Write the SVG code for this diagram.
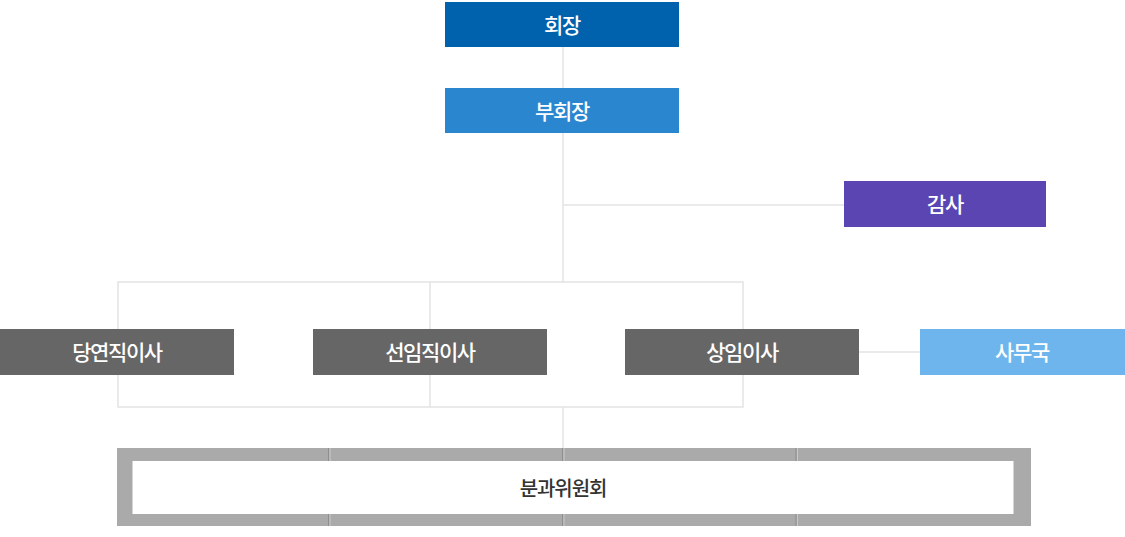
<svg xmlns="http://www.w3.org/2000/svg" width="1125" height="537" viewBox="0 0 1125 537">
<style>
.t{font-family:"Noto Sans CJK KR","Noto Sans",sans-serif;font-size:21px;font-weight:500;letter-spacing:-1.4px;fill:#fff;text-anchor:middle;dominant-baseline:central}
.d{fill:#333;font-size:20px;letter-spacing:-1.1px}
.ln{stroke:#e3e3e3;stroke-width:1.5;fill:none}
</style>
<rect width="1125" height="537" fill="#fff"/>
<g id="connectors">
<line class="ln" x1="563" y1="47" x2="563" y2="88"/>
<line class="ln" x1="563" y1="133" x2="563" y2="282"/>
<line class="ln" x1="563" y1="205" x2="844" y2="205"/>
<rect class="ln" x="118" y="282" width="625" height="125"/>
<line class="ln" x1="430" y1="282" x2="430" y2="407"/>
<line class="ln" x1="858" y1="352" x2="920" y2="352"/>
<line class="ln" x1="563" y1="407" x2="563" y2="448"/>
</g>
<g id="n-chairman"><rect x="445" y="2" width="234" height="45" fill="#0062ad"/><text class="t" x="562" y="24">회장</text></g>
<g id="n-vice"><rect x="445" y="88" width="234" height="45" fill="#2a87cf"/><text class="t" x="562" y="110">부회장</text></g>
<g id="n-audit"><rect x="844" y="181" width="202" height="46" fill="#5b45b3"/><text class="t" x="945" y="203">감사</text></g>
<g id="n-exofficio"><rect x="0" y="329" width="234" height="46" fill="#666"/><text class="t" x="117" y="351">당연직이사</text></g>
<g id="n-elected"><rect x="313" y="329" width="234" height="46" fill="#666"/><text class="t" x="430" y="351">선임직이사</text></g>
<g id="n-standing"><rect x="625" y="329" width="234" height="46" fill="#666"/><text class="t" x="742" y="351">상임이사</text></g>
<g id="n-office"><rect x="920" y="329" width="205" height="46" fill="#6db5ec"/><text class="t" x="1022" y="351">사무국</text></g>
<g id="n-committee">
<path d="M117 448H1031V526H117Z M132.5 461V514H1013.5V461Z" fill="#a9aaa9" fill-rule="evenodd"/>
<g stroke-width="1">
<line x1="328.5" y1="448" x2="328.5" y2="461" stroke="#8e8e8e"/><line x1="330" y1="448" x2="330" y2="461" stroke="#c9c9c9"/>
<line x1="328.5" y1="514" x2="328.5" y2="526" stroke="#8e8e8e"/><line x1="330" y1="514" x2="330" y2="526" stroke="#c9c9c9"/>
<line x1="562.5" y1="448" x2="562.5" y2="461" stroke="#8e8e8e"/><line x1="564" y1="448" x2="564" y2="461" stroke="#c9c9c9"/>
<line x1="562.5" y1="514" x2="562.5" y2="526" stroke="#8e8e8e"/><line x1="564" y1="514" x2="564" y2="526" stroke="#c9c9c9"/>
<line x1="796" y1="448" x2="796" y2="461" stroke="#8e8e8e"/><line x1="797.5" y1="448" x2="797.5" y2="461" stroke="#c9c9c9"/>
<line x1="796" y1="514" x2="796" y2="526" stroke="#8e8e8e"/><line x1="797.5" y1="514" x2="797.5" y2="526" stroke="#c9c9c9"/>
</g>
<text class="t d" x="563" y="487">분과위원회</text>
</g>
</svg>
